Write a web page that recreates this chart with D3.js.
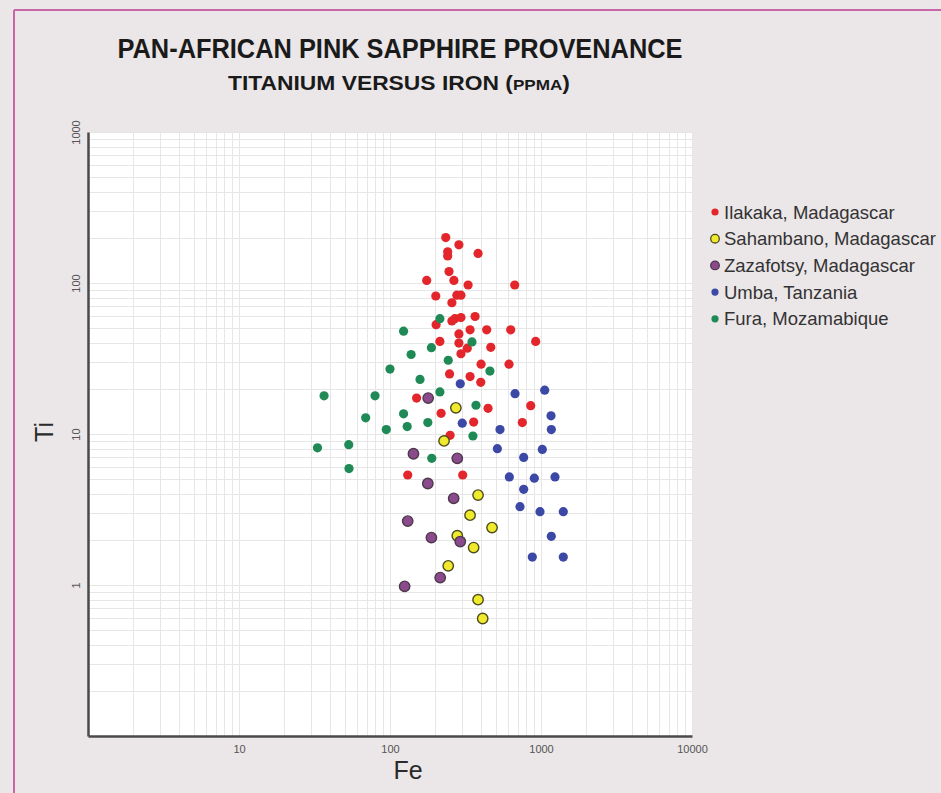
<!DOCTYPE html>
<html>
<head>
<meta charset="utf-8">
<script src="https://cdn.jsdelivr.net/npm/d3@7"></script>
<style>
  html, body { margin: 0; padding: 0; background: #ebe6e8; }
  svg { display: block; }
</style>
</head>
<body>
<svg id="chart"></svg>
<script>
// Fe (x) and Ti (y) in ppma
var ilakakaFe = [234, 286, 241, 241, 383, 246, 265, 175, 329, 670, 201, 277, 295, 257, 269, 295, 257, 366, 202, 339, 437, 630, 286, 214, 286, 325, 465, 922, 295, 401, 614, 248, 339, 399, 150, 218, 446, 855, 358, 752, 250, 131, 303];
var ilakakaTi = [200, 179, 161, 151, 157, 119, 104, 104, 97, 97, 82, 83, 83, 74, 58, 59, 56, 60, 53, 49, 49, 49, 46, 41, 40, 37, 37.5, 41, 34, 29, 29, 25, 24, 22, 17.3, 13.7, 14.8, 15.4, 12, 11.9, 9.8, 5.35, 5.35];

var sahambanoFe = [273, 228, 383, 339, 474, 279, 358, 243, 383, 411];
var sahambanoTi = [14.9, 9.0, 3.94, 2.9, 2.4, 2.12, 1.77, 1.34, 0.80, 0.60];

var zazafotsyFe = [179, 143, 279, 178, 264, 131, 188, 292, 215, 125];
var zazafotsyTi = [17.3, 7.4, 6.9, 4.7, 3.75, 2.65, 2.06, 1.94, 1.12, 0.98];

var umbaFe = [292, 673, 1058, 1165, 301, 1170, 535, 514, 1020, 768, 617, 903, 1238, 768, 726, 985, 1405, 1170, 876, 1405];
var umbaTi = [21.5, 18.5, 19.5, 13.2, 11.8, 10.7, 10.7, 8.0, 7.9, 7.0, 5.2, 5.1, 5.2, 4.3, 3.3, 3.06, 3.06, 2.1, 1.53, 1.53];

var furaFe = [36.6, 79.6, 69, 33.1, 53.3, 53.5, 94.5, 100, 123, 138, 123, 130, 178, 158, 188, 214, 243, 214, 349, 371, 459, 354, 189];
var furaTi = [17.9, 17.9, 12.8, 8.1, 8.5, 5.9, 10.7, 26.9, 48, 33.6, 13.6, 11.2, 11.9, 23, 37.3, 58, 30.8, 19, 40.7, 15.5, 26.1, 9.7, 6.9];

var seriesNames = ["Ilakaka, Madagascar", "Sahambano, Madagascar", "Zazafotsy, Madagascar", "Umba, Tanzania", "Fura, Mozamabique"];
var xTickLabels = [10, 100, 1000, 10000];
var yTickLabels = [1, 10, 100, 1000];

var series = [
  { name: seriesNames[0], fe: ilakakaFe, ti: ilakakaTi, fill: "#e3262b", stroke: "none", r: 4.6 },
  { name: seriesNames[1], fe: sahambanoFe, ti: sahambanoTi, fill: "#f0ea2c", stroke: "#4d4a20", r: 5.2 },
  { name: seriesNames[2], fe: zazafotsyFe, ti: zazafotsyTi, fill: "#8b4a8c", stroke: "#4c3a4c", r: 5.2 },
  { name: seriesNames[3], fe: umbaFe, ti: umbaTi, fill: "#3b48a6", stroke: "none", r: 4.6 },
  { name: seriesNames[4], fe: furaFe, ti: furaTi, fill: "#1f8a55", stroke: "none", r: 4.6 }
];

var svg = d3.select("#chart")
  .attr("width", 941)
  .attr("height", 793)

// pink frame line on the top and left
svg.append("line").attr("x1", 14).attr("y1", 10).attr("x2", 941).attr("y2", 10)
   .attr("stroke", "#c767a8").attr("stroke-width", 2)
svg.append("line").attr("x1", 14).attr("y1", 10).attr("x2", 14).attr("y2", 793)
   .attr("stroke", "#c767a8").attr("stroke-width", 2)

svg.append("text")
   .attr("x", 400)
   .attr("y", 58)
   .attr("text-anchor", "middle")
   .attr("font-family", "'Liberation Sans Narrow', 'Liberation Sans', Arial, sans-serif")
   .attr("font-weight", "bold")
   .attr("font-size", "27px")
   .attr("fill", "#1a1a1a")
   .attr("textLength", 565)
   .attr("lengthAdjust", "spacingAndGlyphs")
   .text("PAN-AFRICAN PINK SAPPHIRE PROVENANCE")

var sub = svg.append("text")
   .attr("x", 399)
   .attr("y", 90)
   .attr("text-anchor", "middle")
   .attr("font-family", "'Liberation Sans Narrow', 'Liberation Sans', Arial, sans-serif")
   .attr("font-weight", "bold")
   .attr("font-size", "20px")
   .attr("fill", "#1a1a1a")
   .attr("textLength", 342)
   .attr("lengthAdjust", "spacingAndGlyphs")
sub.append("tspan").text("TITANIUM VERSUS IRON (")
sub.append("tspan").attr("font-size", "15px").text("PPMA")
sub.append("tspan").text(")")

var plotLeft = 88, plotRight = 692, plotTop = 132, plotBottom = 736;

var xScale = d3.scaleLog().domain([1, 10000]).range([plotLeft, plotRight]),
    yScale = d3.scaleLog().domain([0.1, 1000]).range([plotBottom, plotTop]);

svg.append("rect")
   .attr("x", plotLeft).attr("y", plotTop)
   .attr("width", plotRight - plotLeft).attr("height", plotBottom - plotTop)
   .attr("fill", "#ffffff")

// log grid
var grid = svg.append("g").attr("stroke", "#e6e6e6").attr("stroke-width", 1)
grid.selectAll(".gx")
    .data(xScale.ticks())
    .enter().append("line")
    .attr("x1", function(d) { return Math.round(xScale(d)) + 0.5; })
    .attr("x2", function(d) { return Math.round(xScale(d)) + 0.5; })
    .attr("y1", plotTop).attr("y2", plotBottom)
grid.selectAll(".gy")
    .data(yScale.ticks())
    .enter().append("line")
    .attr("y1", function(d) { return Math.round(yScale(d)) + 0.5; })
    .attr("y2", function(d) { return Math.round(yScale(d)) + 0.5; })
    .attr("x1", plotLeft).attr("x2", plotRight)

var xAxis = svg.append("g")
   .attr("transform", "translate(0," + plotBottom + ")")
   .call(d3.axisBottom(xScale).tickValues(xTickLabels).tickSize(0).tickPadding(9).tickFormat(d3.format("d")))
xAxis.select(".domain").attr("stroke", "#4a4a4a").attr("stroke-width", 2.5)
xAxis.selectAll("text")
   .attr("font-family", "'Liberation Sans Narrow', 'Liberation Sans', Arial, sans-serif")
   .attr("font-size", "11px")
   .attr("fill", "#555")

var yAxis = svg.append("g")
   .attr("transform", "translate(" + plotLeft + ",0)")
   .call(d3.axisLeft(yScale).tickValues(yTickLabels).tickSize(0).tickFormat(d3.format("d")))
yAxis.select(".domain").attr("stroke", "#4a4a4a").attr("stroke-width", 2.5)
yAxis.selectAll("text")
   .attr("font-family", "'Liberation Sans Narrow', 'Liberation Sans', Arial, sans-serif")
   .attr("font-size", "11px")
   .attr("fill", "#555")
   .attr("text-anchor", "middle")
   .attr("dy", "0")
   .attr("x", 0)
   .attr("y", 0)
   .attr("transform", "translate(-8,0) rotate(-90)")

svg.append("text")
   .attr("transform", "translate(53,432) rotate(-90)")
   .attr("text-anchor", "middle")
   .attr("font-family", "'Liberation Sans', Arial, sans-serif")
   .attr("font-size", "25px")
   .attr("fill", "#2a2a2a")
   .text("Ti")

svg.append("text")
   .attr("x", 408)
   .attr("y", 779)
   .attr("text-anchor", "middle")
   .attr("font-family", "'Liberation Sans', Arial, sans-serif")
   .attr("font-size", "25px")
   .attr("fill", "#2a2a2a")
   .text("Fe")

series.forEach(function(s) {
    svg.append("g").selectAll("circle")
       .data(s.fe.map(function(d, i) { return [d, s.ti[i]]; }))
       .enter().append("circle")
       .attr("cx", function(d) { return xScale(d[0]); })
       .attr("cy", function(d) { return yScale(d[1]); })
       .attr("r", s.r)
       .attr("fill", s.fill)
       .attr("stroke", s.stroke)
       .attr("stroke-width", 1.4)
});

var legend = svg.append("g").attr("transform", "translate(715,212)")
var item = legend.selectAll("g")
    .data(series)
    .enter().append("g")
    .attr("transform", function(d, i) { return "translate(0," + (i * 26.7) + ")"; })
item.append("circle")
    .attr("r", function(d) { return d.stroke === "none" ? 3.6 : 4.3; })
    .attr("fill", function(d) { return d.fill; })
    .attr("stroke", function(d) { return d.stroke; })
    .attr("stroke-width", 1.3)
item.append("text")
    .attr("x", 9)
    .attr("dy", "0.36em")
    .attr("font-family", "'Liberation Sans', Arial, sans-serif")
    .attr("font-size", "18.5px")
    .attr("fill", "#333")
    .text(function(d) { return d.name; })
</script>
</body>
</html>
